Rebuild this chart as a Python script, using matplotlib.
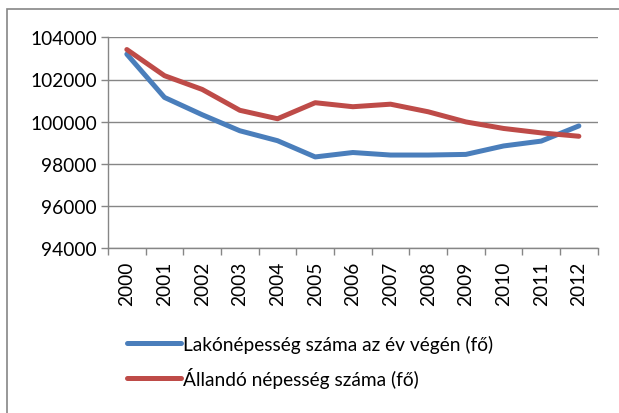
import matplotlib.pyplot as plt
from matplotlib.patches import Rectangle

years = ['2000', '2001', '2002', '2003', '2004', '2005', '2006',
         '2007', '2008', '2009', '2010', '2011', '2012']
lakonepesseg = [103200, 101150, 100330, 99570, 99100, 98330, 98540,
                98420, 98420, 98450, 98850, 99080, 99800]
allando = [103420, 102180, 101530, 100540, 100140, 100900, 100710,
           100830, 100470, 99990, 99680, 99470, 99310]
yticks = [94000, 96000, 98000, 100000, 102000, 104000]

plt.rcParams['font.family'] = ['Lato', 'DejaVu Sans']

fig = plt.figure(figsize=(6.19, 4.14), dpi=100)
ax = fig.add_axes([108 / 619, 1 - 249.3 / 414, (597.7 - 108) / 619, (249.3 - 38.3) / 414])

# outer chart frame (cropped on right and bottom)
fig.patches.append(Rectangle((7 / 619, -0.05), 1.0, 1 - 10 / 414 + 0.05,
                             transform=fig.transFigure, fill=False,
                             edgecolor='#868686', linewidth=1.2))

x = list(range(len(years)))
ax.plot(x, lakonepesseg, color='#4A7EBB', linewidth=3.6,
        solid_capstyle='round', label='Lakónépesség száma az év végén (fő)')
ax.plot(x, allando, color='#BE4B48', linewidth=3.6,
        solid_capstyle='round', label='Állandó népesség száma (fő)')

ax.set_xlim(-0.5, 12.5)
ax.set_ylim(94000, 104000)
ax.set_yticks(yticks)
ax.set_yticklabels([str(v) for v in yticks], fontsize=13.8)
ax.set_xticks(x)
ax.set_xticklabels(years, rotation=90, fontsize=13.8)
ax.set_xticks([i - 0.5 for i in range(len(years) + 1)], minor=True)
ax.tick_params(axis='x', which='major', length=0, pad=9)
ax.tick_params(axis='x', which='minor', length=5, color='#868686', width=1)
ax.tick_params(axis='y', length=5, color='#868686', width=1, pad=3)

ax.grid(axis='y', color='#868686', linewidth=1)
ax.set_axisbelow(True)
for side in ['top', 'right']:
    ax.spines[side].set_visible(False)
for side in ['left', 'bottom']:
    ax.spines[side].set_color('#868686')
    ax.spines[side].set_linewidth(1)

fig.legend(loc='upper left', bbox_to_anchor=(127 / 619, 1 - 336 / 414),
           frameon=False, fontsize=13.8, handlelength=2.8,
           handletextpad=0.1, labelspacing=0.72, borderpad=0, borderaxespad=0)

fig.savefig('out.png', dpi=100)
